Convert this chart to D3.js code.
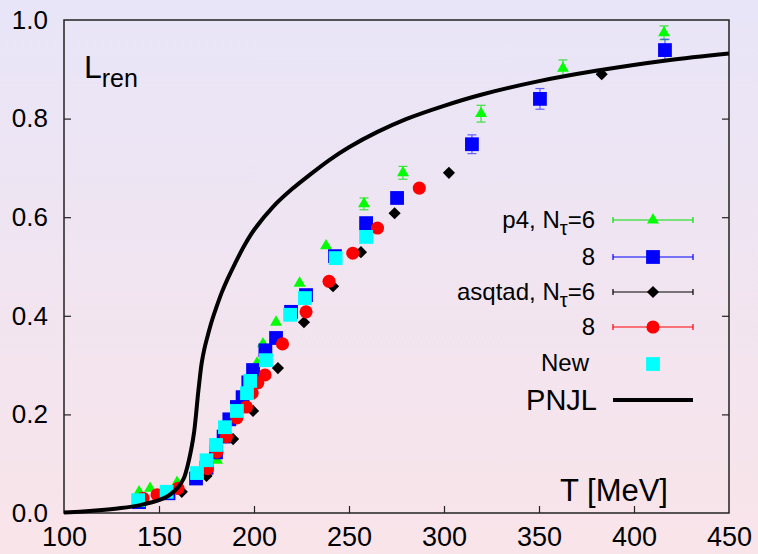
<!DOCTYPE html>
<html>
<head>
<meta charset="utf-8">
<script src="https://cdn.jsdelivr.net/npm/d3@7"></script>
<style>
  body { margin: 0; background: #fff; }
  text { font-family: "Liberation Sans", Arial, sans-serif; fill: #000; }
</style>
</head>
<body>
<div id="chart"></div>
<script>
// ---- data ----
const xTicks = [100, 150, 200, 250, 300, 350, 400, 450];
const yTicks = [0.0, 0.2, 0.4, 0.6, 0.8, 1.0];

// p4, Ntau=6 (green triangles)
const p4n6T = [139.5, 145.3, 159.5, 175.5, 180.5, 201.6, 204.7, 211.6, 224, 237.9, 257.9, 278.4, 319.5, 362.6, 415.8];
const p4n6L = [0.043, 0.05, 0.062, 0.085, 0.107, 0.304, 0.343, 0.387, 0.466, 0.542, 0.627, 0.69, 0.81, 0.902, 0.974];
const p4n6E = [0.004, 0.004, 0.004, 0.004, 0.005, 0.006, 0.006, 0.007, 0.008, 0.01, 0.012, 0.013, 0.017, 0.017, 0.014];

// p4, Ntau=8 (blue squares)
const p4n8T = [139.5, 155, 169.5, 175, 180, 184, 187, 191, 194, 197, 199.5, 206, 211.6, 219.5, 227.4, 242.6, 259, 275.3, 314.7, 350.5, 416.3];
const p4n8L = [0.022, 0.04, 0.07, 0.092, 0.123, 0.155, 0.19, 0.215, 0.235, 0.265, 0.29, 0.33, 0.355, 0.408, 0.442, 0.521, 0.588, 0.639, 0.748, 0.84, 0.939];
const p4n8E = [0.003, 0.003, 0.003, 0.003, 0.004, 0.004, 0.004, 0.004, 0.005, 0.005, 0.005, 0.005, 0.006, 0.006, 0.006, 0.008, 0.008, 0.01, 0.019, 0.021, 0.022];

// asqtad, Ntau=6 (black diamonds)
const asq6T = [162, 175, 189, 199.5, 212.6, 226.3, 241.6, 256.3, 274, 302.6, 383];
const asq6L = [0.043, 0.075, 0.15, 0.207, 0.294, 0.387, 0.46, 0.529, 0.608, 0.69, 0.89];

// asqtad, Ntau=8 (red circles)
const asq8T = [141.6, 149, 160, 175.5, 180.5, 185.5, 191, 196, 199, 202, 205.8, 215, 227.4, 239.5, 252, 265, 287];
const asq8L = [0.03, 0.037, 0.05, 0.09, 0.124, 0.155, 0.193, 0.215, 0.243, 0.264, 0.28, 0.343, 0.408, 0.47, 0.527, 0.578, 0.659];

// New (cyan squares)
const newT = [139, 154, 170, 175, 180, 184.7, 191, 196.3, 198, 206.3, 219, 226.8, 243, 259];
const newL = [0.026, 0.043, 0.081, 0.107, 0.138, 0.174, 0.207, 0.243, 0.268, 0.31, 0.402, 0.436, 0.517, 0.56];

// PNJL curve
const pnjlT = [100, 110, 120, 130, 140, 150, 155, 160, 163, 165, 167, 168.5, 169.5, 170.5, 171.5, 172.5, 174, 176, 178, 180, 183, 186, 190, 195, 200, 210, 220, 230, 240, 250, 265, 280, 300, 320, 350, 380, 417, 450];
const pnjlL = [0.001, 0.003, 0.006, 0.01, 0.016, 0.026, 0.035, 0.052, 0.07, 0.095, 0.13, 0.165, 0.2, 0.24, 0.275, 0.305, 0.335, 0.365, 0.392, 0.415, 0.447, 0.474, 0.506, 0.543, 0.574, 0.621, 0.657, 0.688, 0.717, 0.742, 0.773, 0.799, 0.826, 0.849, 0.876, 0.897, 0.918, 0.932];

// ---- layout ----
const svgObj = { width: 758, height: 554 };
const plot = { left: 64, right: 729, top: 20, bottom: 513 };

const x = d3.scaleLinear().domain([100, 450]).range([plot.left, plot.right]);
const y = d3.scaleLinear().domain([0, 1]).range([plot.bottom, plot.top]);

const svg = d3.select("#chart")
  .append("svg")
  .attr("width", svgObj.width)
  .attr("height", svgObj.height);

const defs = svg.append("defs");
const grad = defs.append("linearGradient")
  .attr("id", "bg")
  .attr("x1", 0).attr("y1", 0).attr("x2", 0).attr("y2", 1);
grad.append("stop").attr("offset", "0%").attr("stop-color", "#e8e5f8");
grad.append("stop").attr("offset", "100%").attr("stop-color", "#f9e4e9");

svg.append("rect")
  .attr("width", svgObj.width)
  .attr("height", svgObj.height)
  .attr("fill", "url(#bg)");

// ---- axes (ticks inward) ----
const bottomAxis = d3.axisBottom(x).tickValues(xTicks).tickSize(-7).tickPadding(14).tickFormat(d3.format("d"));
const leftAxis = d3.axisLeft(y).tickValues(yTicks).tickSize(-7).tickPadding(16).tickFormat(d3.format(".1f"));
const rightAxis = d3.axisRight(y).tickValues(yTicks).tickSize(-7).tickFormat("");

const gx = svg.append("g")
  .attr("transform", `translate(0, ${plot.bottom})`)
  .call(bottomAxis);
gx.selectAll("text")
  .attr("font-size", 27)
  .attr("dy", "0.71em");

const gy = svg.append("g")
  .attr("transform", `translate(${plot.left}, 0)`)
  .call(leftAxis);
gy.selectAll("text").attr("font-size", 26);

const gr = svg.append("g")
  .attr("transform", `translate(${plot.right}, 0)`)
  .call(rightAxis);

[gx, gy, gr].forEach((g) => {
  g.select(".domain").remove();
  g.selectAll(".tick line").attr("stroke", "#222").attr("stroke-width", 1.2);
  // drop ticks sitting on the frame corners
  g.selectAll(".tick").filter((d) => d === 0 || d === 1 || d === 100 || d === 450).select("line").remove();
});

svg.append("rect")
  .attr("x", plot.left)
  .attr("y", plot.top)
  .attr("width", plot.right - plot.left)
  .attr("height", plot.bottom - plot.top)
  .attr("fill", "none")
  .attr("stroke", "#222")
  .attr("stroke-width", 1.5);

// ---- markers ----
const shapes = {
  tri: d3.symbol().type(d3.symbolTriangle).size(62),
  sq: d3.symbol().type(d3.symbolSquare).size(190),
  dia: d3.symbol().type(d3.symbolSquare).size(74),
  circ: d3.symbol().type(d3.symbolCircle).size(135),
};

const drawErrors = (T, L, E, color) => {
  const g = svg.append("g").attr("stroke", color).attr("stroke-width", 1.2).attr("opacity", 0.75);
  T.forEach((t, i) => {
    if (y(L[i] - E[i]) - y(L[i] + E[i]) < 10) return;
    const cx = x(t);
    g.append("line").attr("x1", cx).attr("x2", cx).attr("y1", y(L[i] - E[i])).attr("y2", y(L[i] + E[i]));
    [L[i] - E[i], L[i] + E[i]].forEach((v) => {
      g.append("line").attr("x1", cx - 4.5).attr("x2", cx + 4.5).attr("y1", y(v)).attr("y2", y(v));
    });
  });
};

const drawPoints = (T, L, shape, color, rotate) => {
  svg.append("g")
    .selectAll("path")
    .data(T.map((t, i) => [t, L[i]]))
    .join("path")
    .attr("d", shape)
    .attr("fill", color)
    .attr("transform", (d) => `translate(${x(d[0])}, ${y(d[1])})${rotate ? " rotate(45)" : ""}`);
};

drawErrors(p4n6T, p4n6L, p4n6E, "#00e000");
drawPoints(p4n6T, p4n6L, shapes.tri, "#00ff00");
drawErrors(p4n8T, p4n8L, p4n8E, "#3333ff");
drawPoints(p4n8T, p4n8L, shapes.sq, "#0000ff");
drawPoints(asq6T, asq6L, shapes.dia, "#000000", true);
drawPoints(asq8T, asq8L, shapes.circ, "#ff0000");
drawPoints(newT, newL, shapes.sq, "#00ffff");

// ---- PNJL curve ----
const line = d3.line()
  .x((d) => x(d[0]))
  .y((d) => y(d[1]))
  .curve(d3.curveCatmullRom.alpha(0.5));

svg.append("path")
  .datum(pnjlT.map((t, i) => [t, pnjlL[i]]))
  .attr("d", line)
  .attr("fill", "none")
  .attr("stroke", "#000")
  .attr("stroke-width", 4);

// ---- labels ----
const lab = svg.append("text").attr("x", 84).attr("y", 78);
lab.append("tspan").attr("font-size", 32).text("L");
lab.append("tspan").attr("font-size", 25).attr("dy", 9).text("ren");

svg.append("text")
  .attr("x", 668)
  .attr("y", 501)
  .attr("text-anchor", "end")
  .attr("font-size", 31)
  .text("T [MeV]");

// ---- legend ----
const legend = svg.append("g");
const legX = 595, lineX1 = 613, lineX2 = 693, markX = 653;
const legRows = [
  { y: 220, label: ["p4, N", "τ", "=6"], color: "#00ff00", bar: "#00e000", shape: shapes.tri },
  { y: 257, label: ["8"], color: "#0000ff", bar: "#0000ff", shape: shapes.sq },
  { y: 292, label: ["asqtad, N", "τ", "=6"], color: "#000", bar: "#000", shape: shapes.dia, rot: true },
  { y: 327, label: ["8"], color: "#ff0000", bar: "#ff0000", shape: shapes.circ },
];

legRows.forEach((r) => {
  const t = legend.append("text")
    .attr("x", legX)
    .attr("y", r.y + 8)
    .attr("text-anchor", "end")
    .attr("font-size", 24);
  t.append("tspan").text(r.label[0]);
  if (r.label.length > 1) {
    t.append("tspan").attr("dy", 7).attr("font-size", 20).text(r.label[1]);
    t.append("tspan").attr("dy", -7).text(r.label[2]);
  }
  legend.append("line").attr("x1", lineX1).attr("x2", lineX2).attr("y1", r.y).attr("y2", r.y)
    .attr("stroke", r.bar).attr("stroke-width", 1.2);
  [lineX1, lineX2].forEach((lx) => {
    legend.append("line").attr("x1", lx).attr("x2", lx).attr("y1", r.y - 3).attr("y2", r.y + 3)
      .attr("stroke", r.bar).attr("stroke-width", 1.2);
  });
  legend.append("path").attr("d", r.shape).attr("fill", r.color)
    .attr("transform", `translate(${markX}, ${r.y})${r.rot ? " rotate(45)" : ""}`);
});

legend.append("text").attr("x", 589).attr("y", 371).attr("text-anchor", "end").attr("font-size", 24).text("New");
legend.append("path").attr("d", shapes.sq).attr("fill", "#00ffff").attr("transform", `translate(${markX}, 364)`);

legend.append("text").attr("x", 597).attr("y", 410).attr("text-anchor", "end").attr("font-size", 29).text("PNJL");
legend.append("line").attr("x1", lineX1).attr("x2", lineX2).attr("y1", 400).attr("y2", 400)
  .attr("stroke", "#000").attr("stroke-width", 4);
</script>
</body>
</html>
